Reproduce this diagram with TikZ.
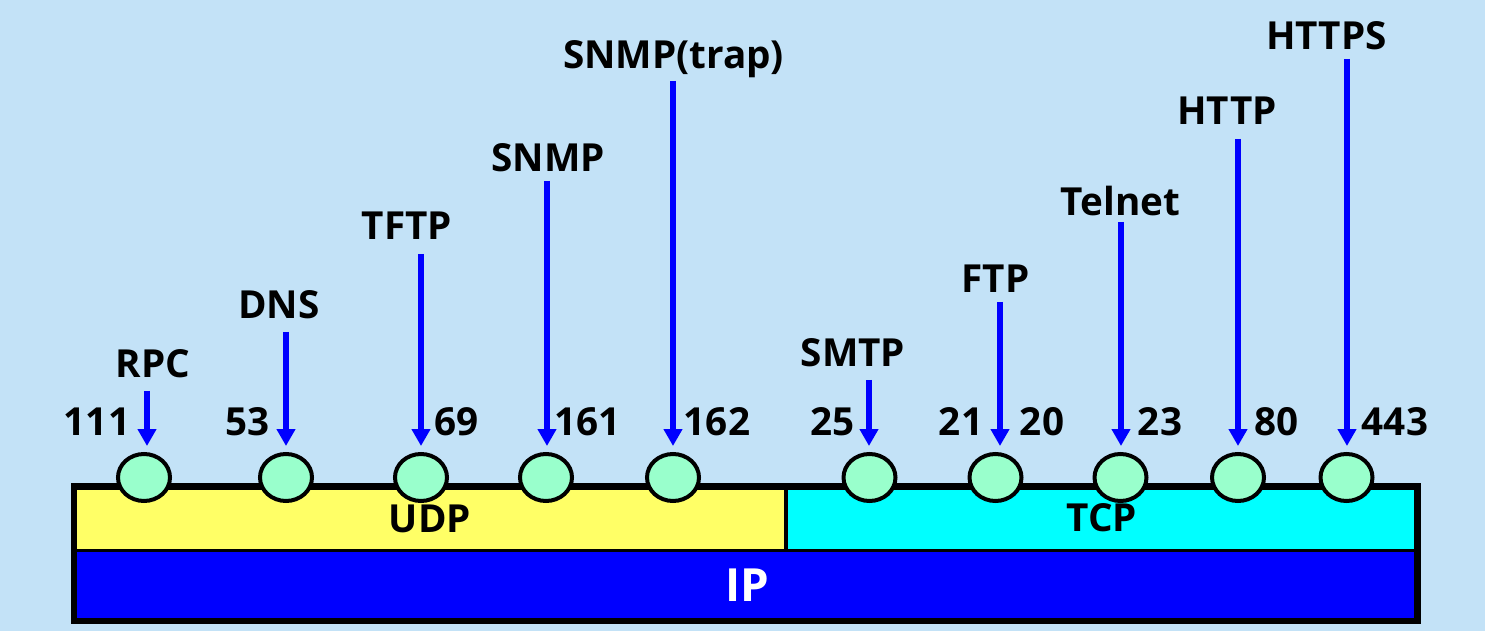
\documentclass[tikz,border=0pt]{standalone}
\usepackage{fontspec}
\setmainfont{Open Sans}
\usetikzlibrary{arrows.meta,shapes.geometric}

\definecolor{bgblue}{RGB}{195,226,247}
\definecolor{portgreen}{RGB}{153,255,204}
\definecolor{udpyellow}{RGB}{255,255,102}
\definecolor{tcpcyan}{RGB}{0,255,255}
\definecolor{ipblue}{RGB}{0,0,255}

\tikzset{
  port/.style={ellipse,draw,fill=portgreen,line width=0.08cm,
    minimum width=1.04cm,minimum height=0.94cm,inner sep=0pt},
  proto/.style={anchor=base,font=\fontsize{22}{26}\selectfont\bfseries,inner sep=0pt},
  num/.style={proto},
  pointer/.style={draw=ipblue,line width=0.12cm,
    -{Triangle[length=0.34cm,width=0.36cm]},shorten >=0.12cm}
}

\begin{document}
\begin{tikzpicture}[x=0.02cm,y=-0.02cm]
  \fill[bgblue] (0,0) rectangle (1485,631);
  \useasboundingbox (0,0) rectangle (1485,631);

  % transport and network layers
  \fill[udpyellow] (74,486.5) rectangle (786,550.5);
  \fill[tcpcyan] (786,486.5) rectangle (1417,550.5);
  \fill[ipblue] (74,550.5) rectangle (1417,621);
  \draw[line width=0.08cm] (74,550.5) -- (1417,550.5);
  \draw[line width=0.08cm] (786,486.5) -- (786,550.5);
  \draw[line width=0.14cm] (74,486.5) rectangle (1417,621);
  \node[proto] (udp) at (430,533) {UDP};
  \node[proto] (tcp) at (1102,532) {TCP};
  \node[proto,text=white,font=\fontsize{26}{30}\selectfont\bfseries] (ip) at (747,602) {IP};

  % ports
  \node[port] (rpc) at (144,477.5) {};
  \node[port] (dns) at (286,477.5) {};
  \node[port] (tftp) at (421,477.5) {};
  \node[port] (snmp) at (546,477.5) {};
  \node[port] (trap) at (673,477.5) {};
  \node[port] (smtp) at (869.5,477.5) {};
  \node[port] (ftp) at (995.5,477.5) {};
  \node[port] (telnet) at (1120.5,477.5) {};
  \node[port] (http) at (1238,477.5) {};
  \node[port] (https) at (1346.5,477.5) {};

  % port numbers
  \node[num] (n111) at (97,436) {111};
  \node[num] (n53) at (247.5,436) {53};
  \node[num] (n69) at (456.5,436) {69};
  \node[num] (n161) at (587.5,436) {161};
  \node[num] (n162) at (717,436) {162};
  \node[num] (n25) at (832.5,436) {25};
  \node[num] (n21) at (961,436) {21};
  \node[num] (n20) at (1042,436) {20};
  \node[num] (n23) at (1160,436) {23};
  \node[num] (n80) at (1276.5,436) {80};
  \node[num] (n443) at (1395,436) {443};

  % application protocols
  \node[proto] (rpclabel) at (153,378) {RPC};
  \node[proto] (dnslabel) at (279,319) {DNS};
  \node[proto] (tftplabel) at (407,240) {TFTP};
  \node[proto] (snmplabel) at (548,172) {SNMP};
  \node[proto] (traplabel) at (673.5,69) {SNMP(trap)};
  \node[proto] (smtplabel) at (853,367) {SMTP};
  \node[proto] (ftplabel) at (995.5,293) {FTP};
  \node[proto] (telnetlabel) at (1120.5,216) {Telnet};
  \node[proto] (httplabel) at (1227,125) {HTTP};
  \node[proto] (httpslabel) at (1326.5,50) {HTTPS};

  \coordinate (rpctop) at (147,391);
  \coordinate (dnstop) at (286,332);
  \coordinate (tftptop) at (421,254);
  \coordinate (snmptop) at (547,181);
  \coordinate (traptop) at (673,81);
  \coordinate (smtptop) at (869,380);
  \coordinate (ftptop) at (1000,302);
  \coordinate (telnettop) at (1121,222);
  \coordinate (httptop) at (1238,139);
  \coordinate (httpstop) at (1347,59);

  \draw[pointer] (rpctop) -- (rpctop |- rpc.north);
  \draw[pointer] (dnstop) -- (dnstop |- dns.north);
  \draw[pointer] (tftptop) -- (tftptop |- tftp.north);
  \draw[pointer] (snmptop) -- (snmptop |- snmp.north);
  \draw[pointer] (traptop) -- (traptop |- trap.north);
  \draw[pointer] (smtptop) -- (smtptop |- smtp.north);
  \draw[pointer] (ftptop) -- (ftptop |- ftp.north);
  \draw[pointer] (telnettop) -- (telnettop |- telnet.north);
  \draw[pointer] (httptop) -- (httptop |- http.north);
  \draw[pointer] (httpstop) -- (httpstop |- https.north);
\end{tikzpicture}
\end{document}
